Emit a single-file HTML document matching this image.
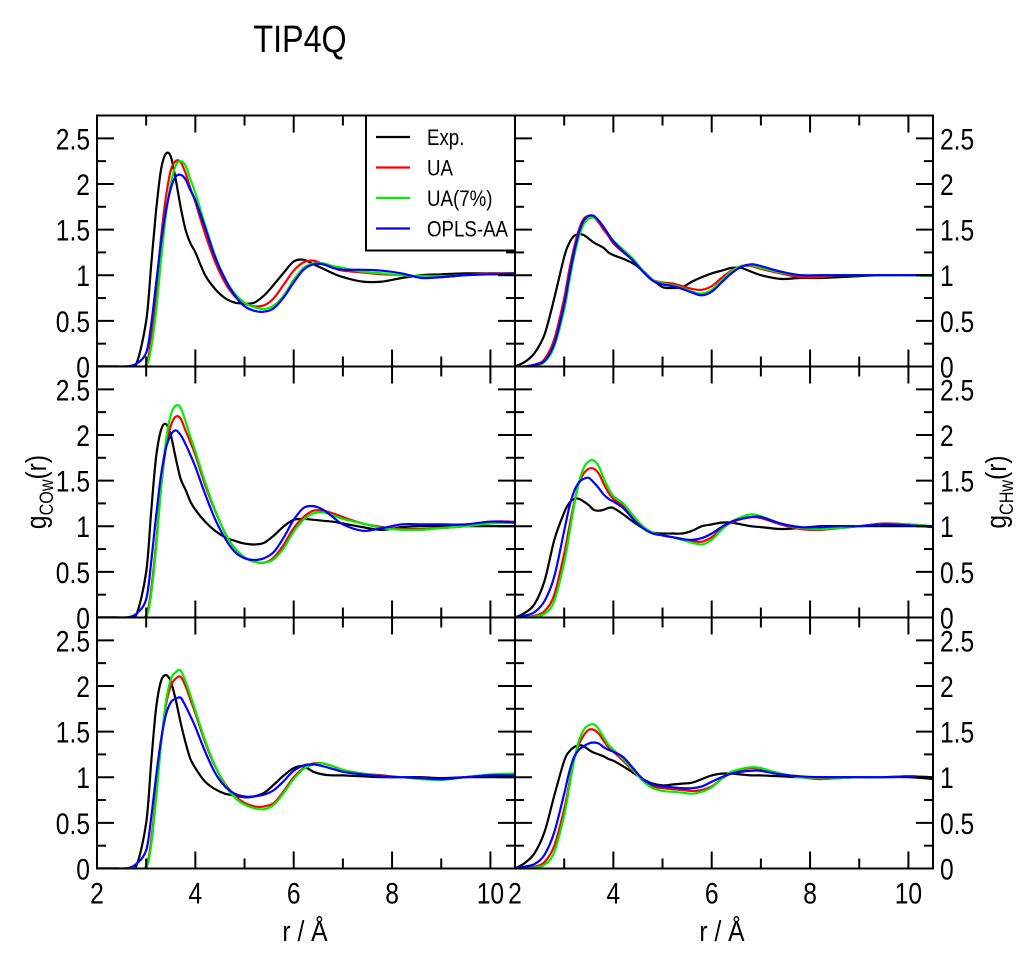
<!DOCTYPE html>
<html><head><meta charset="utf-8">
<style>
html,body{margin:0;padding:0;background:#fff;}
svg{display:block;font-family:"Liberation Sans",sans-serif;}
</style></head>
<body>
<svg id="chart" width="1024" height="957" viewBox="0 0 1024 957">
<text transform="translate(300,52) scale(0.85,1)" font-size="38" text-anchor="middle">TIP4Q</text>
<g id="panels"></g>
<text transform="translate(305,941) scale(0.85,1)" font-size="29" text-anchor="middle">r / Å</text>
<text transform="translate(722,941) scale(0.85,1)" font-size="29" text-anchor="middle">r / Å</text>
<text transform="translate(46,492) rotate(-90) scale(0.85,1)" font-size="29" text-anchor="middle">g<tspan font-size="19" dy="7">COw</tspan><tspan dy="-7">(r)</tspan></text>
<text transform="translate(1006,492) rotate(-90) scale(0.85,1)" font-size="29" text-anchor="middle">g<tspan font-size="19" dy="7">CHw</tspan><tspan dy="-7">(r)</tspan></text>
</svg>
<script>
const R = [2.0,2.2,2.4,2.6,2.8,3.0,3.1,3.2,3.3,3.4,3.5,3.6,3.7,3.8,3.9,4.0,4.2,4.4,4.6,4.8,5.0,5.2,5.4,5.6,5.8,6.0,6.2,6.4,6.6,6.8,7.0,7.4,7.8,8.2,8.6,9.0,9.5,10.0,10.5];
const seriesNames = ["Exp.","UA","UA(7%)","OPLS-AA"];
const seriesColors = ["#000000","#ff0000","#00ee00","#0000ff"];
const xTicks = [2,4,6,8,10];
const yTicks = [0,0.5,1,1.5,2,2.5];
// top-left (COw)
const p1Exp = [0,0,0,0,0.03,0.5,1.1,1.7,2.15,2.33,2.3,2.05,1.75,1.5,1.35,1.25,1.0,0.85,0.75,0.7,0.69,0.7,0.78,0.9,1.03,1.15,1.17,1.12,1.07,1.02,0.98,0.93,0.93,0.97,1.0,1.01,1.02,1.02,1.02];
const p1UA  = [0,0,0,0,0,0.02,0.3,0.8,1.4,1.85,2.15,2.25,2.24,2.12,1.95,1.8,1.45,1.15,0.92,0.77,0.69,0.66,0.67,0.75,0.9,1.05,1.14,1.16,1.12,1.08,1.05,1.03,1.01,1.0,0.98,0.98,1.0,1.02,1.01];
const p1UA7 = [0,0,0,0,0,0.01,0.2,0.6,1.15,1.65,2.0,2.2,2.25,2.2,2.05,1.9,1.55,1.22,0.97,0.8,0.7,0.65,0.63,0.67,0.78,0.95,1.08,1.13,1.13,1.1,1.08,1.04,1.02,1.0,0.99,0.99,1.0,1.01,1.0];
const p1OPLS= [0,0,0,0,0.03,0.15,0.45,0.9,1.35,1.7,1.95,2.08,2.1,2.05,1.93,1.82,1.52,1.2,0.96,0.78,0.66,0.61,0.6,0.64,0.76,0.92,1.06,1.12,1.12,1.08,1.06,1.06,1.05,1.02,0.97,0.98,1.0,1.01,1.01];
// top-right (CHw)
const p2Exp = [0,0.05,0.15,0.35,0.75,1.2,1.35,1.43,1.45,1.44,1.4,1.36,1.33,1.3,1.25,1.22,1.18,1.13,1.05,0.95,0.87,0.86,0.87,0.93,0.98,1.02,1.05,1.08,1.08,1.04,1.0,0.96,0.97,0.97,0.98,0.99,1.0,1.0,1.0];
const p2UA  = [0,0,0.02,0.08,0.3,0.75,1.05,1.3,1.5,1.62,1.65,1.64,1.58,1.5,1.43,1.35,1.25,1.17,1.05,0.95,0.92,0.91,0.88,0.85,0.84,0.88,0.97,1.05,1.1,1.1,1.07,1.02,0.98,0.98,1.0,1.0,1.0,1.0,1.0];
const p2UA7 = [0,0,0.01,0.05,0.22,0.62,0.92,1.2,1.42,1.56,1.62,1.63,1.6,1.53,1.45,1.38,1.28,1.18,1.05,0.95,0.91,0.89,0.86,0.82,0.8,0.84,0.94,1.04,1.1,1.11,1.08,1.03,1.0,1.0,1.0,1.0,1.0,1.0,0.99];
const p2OPLS= [0,0,0.02,0.06,0.25,0.68,0.98,1.25,1.47,1.6,1.65,1.65,1.6,1.53,1.45,1.37,1.26,1.16,1.04,0.94,0.9,0.88,0.85,0.81,0.78,0.82,0.92,1.02,1.09,1.12,1.1,1.04,1.0,1.0,1.0,1.0,1.0,1.0,1.0];
// middle-left (COw)
const p3Exp = [0,0,0,0,0.03,0.5,1.15,1.75,2.05,2.12,2.0,1.75,1.52,1.4,1.27,1.18,1.05,0.95,0.88,0.84,0.81,0.8,0.82,0.9,1.0,1.07,1.08,1.07,1.06,1.05,1.03,0.99,0.96,0.99,1.0,1.0,1.0,1.0,1.0];
const p3UA  = [0,0,0,0,0,0.02,0.3,0.8,1.4,1.85,2.1,2.2,2.18,2.05,1.92,1.78,1.45,1.17,0.93,0.76,0.66,0.61,0.6,0.66,0.8,0.98,1.1,1.17,1.17,1.14,1.1,1.03,0.99,0.97,0.97,0.98,1.0,1.05,1.05];
const p3UA7 = [0,0,0,0,0,0.01,0.25,0.75,1.4,1.92,2.22,2.32,2.3,2.15,1.98,1.82,1.48,1.18,0.93,0.76,0.66,0.61,0.6,0.64,0.76,0.94,1.07,1.14,1.15,1.12,1.08,1.03,0.98,0.96,0.96,0.98,1.0,1.03,1.04];
const p3OPLS= [0,0,0,0,0.04,0.2,0.6,1.1,1.55,1.85,2.0,2.05,2.0,1.9,1.78,1.65,1.35,1.08,0.87,0.72,0.65,0.63,0.65,0.72,0.88,1.07,1.2,1.22,1.18,1.1,1.02,0.95,0.98,1.02,1.02,1.02,1.02,1.05,1.04];
// middle-right (CHw)
const p4Exp = [0,0.05,0.15,0.4,0.85,1.15,1.25,1.3,1.3,1.27,1.23,1.18,1.17,1.18,1.2,1.2,1.13,1.05,0.98,0.93,0.92,0.92,0.92,0.95,1.0,1.02,1.04,1.04,1.02,1.0,0.99,0.97,0.98,1.0,1.0,1.0,1.0,1.0,1.0];
const p4UA  = [0,0,0.02,0.07,0.25,0.7,0.98,1.25,1.47,1.58,1.63,1.63,1.58,1.47,1.37,1.3,1.22,1.1,0.99,0.93,0.9,0.88,0.86,0.84,0.83,0.88,0.97,1.04,1.08,1.1,1.09,1.02,0.97,0.96,0.98,1.0,1.03,1.02,1.0];
const p4UA7 = [0,0,0.01,0.04,0.18,0.6,0.9,1.22,1.48,1.64,1.71,1.72,1.66,1.53,1.42,1.33,1.25,1.12,1.0,0.93,0.9,0.88,0.85,0.82,0.8,0.85,0.96,1.05,1.1,1.13,1.11,1.03,0.98,0.97,0.98,1.0,1.02,1.02,1.0];
const p4OPLS= [0,0.02,0.06,0.18,0.45,0.95,1.2,1.38,1.48,1.52,1.53,1.48,1.42,1.35,1.3,1.27,1.2,1.08,0.98,0.92,0.9,0.88,0.86,0.85,0.87,0.92,0.99,1.05,1.08,1.1,1.1,1.03,0.99,0.99,1.0,1.0,1.02,1.01,0.99];
// bottom-left (COw)
const p5Exp = [0,0,0,0,0.03,0.5,1.15,1.75,2.05,2.12,2.05,1.85,1.6,1.38,1.2,1.1,0.95,0.87,0.82,0.8,0.78,0.79,0.83,0.92,1.02,1.1,1.12,1.06,1.03,1.02,1.02,1.01,1.0,1.0,1.0,0.99,1.0,1.0,1.0];
const p5UA  = [0,0,0,0,0,0.02,0.3,0.8,1.35,1.78,2.0,2.08,2.1,2.0,1.85,1.7,1.38,1.12,0.93,0.8,0.72,0.68,0.68,0.72,0.85,1.0,1.1,1.15,1.15,1.12,1.08,1.04,1.02,1.0,0.99,0.98,1.0,1.02,1.02];
const p5UA7 = [0,0,0,0,0,0.01,0.25,0.75,1.35,1.82,2.07,2.15,2.17,2.05,1.9,1.73,1.4,1.13,0.92,0.78,0.7,0.66,0.65,0.7,0.83,0.98,1.09,1.14,1.15,1.12,1.08,1.04,1.01,1.0,0.98,0.97,1.0,1.03,1.04];
const p5OPLS= [0,0,0,0,0.05,0.2,0.55,1.0,1.4,1.68,1.82,1.86,1.87,1.78,1.67,1.55,1.28,1.05,0.9,0.82,0.79,0.79,0.81,0.86,0.96,1.07,1.13,1.14,1.12,1.09,1.06,1.03,1.01,1.0,0.99,0.98,1.0,1.02,1.02];
// bottom-right (CHw)
const p6Exp = [0,0.06,0.17,0.4,0.8,1.18,1.28,1.33,1.35,1.34,1.3,1.27,1.25,1.23,1.2,1.18,1.12,1.05,0.98,0.93,0.91,0.92,0.93,0.94,0.98,1.02,1.04,1.04,1.03,1.02,1.02,1.01,1.0,1.0,1.0,1.0,1.0,1.0,0.98];
const p6UA  = [0,0,0.02,0.07,0.25,0.65,0.92,1.18,1.36,1.46,1.52,1.52,1.48,1.4,1.33,1.28,1.18,1.07,0.97,0.9,0.88,0.87,0.86,0.85,0.86,0.9,0.98,1.05,1.08,1.1,1.09,1.04,1.0,0.98,0.99,1.0,1.0,1.01,1.0];
const p6UA7 = [0,0,0.01,0.04,0.18,0.58,0.88,1.18,1.4,1.52,1.57,1.58,1.53,1.44,1.36,1.3,1.2,1.08,0.96,0.88,0.85,0.84,0.83,0.82,0.84,0.89,0.98,1.06,1.09,1.11,1.1,1.04,1.0,0.99,0.99,1.0,1.0,1.01,1.0];
const p6OPLS= [0,0.02,0.05,0.15,0.4,0.82,1.05,1.22,1.3,1.34,1.37,1.38,1.37,1.33,1.3,1.28,1.22,1.1,0.98,0.92,0.9,0.89,0.88,0.88,0.9,0.95,1.0,1.04,1.06,1.07,1.07,1.03,1.01,1.0,1.0,1.0,1.0,1.01,1.0];
const panelData = [[p1Exp,p1UA,p1UA7,p1OPLS],[p2Exp,p2UA,p2UA7,p2OPLS],[p3Exp,p3UA,p3UA7,p3OPLS],[p4Exp,p4UA,p4UA7,p4OPLS],[p5Exp,p5UA,p5UA7,p5OPLS],[p6Exp,p6UA,p6UA7,p6OPLS]];
const panelNames = ["top-left","top-right","middle-left","middle-right","bottom-left","bottom-right"];

const NS = "http://www.w3.org/2000/svg";
const root = document.getElementById("panels");
const X0 = [97,515], PW = 418, Y0 = [115.5,366.5,617.5], PH = 251;
const XMIN=2, XMAX=10.5, YMAX=2.75;
const SQ = 0.82;
function mk(tag, attrs, parent){const e=document.createElementNS(NS,tag);for(const k in attrs)e.setAttribute(k,attrs[k]);(parent||root).appendChild(e);return e;}
function smoothPath(pts){
  let d="M"+pts[0][0].toFixed(1)+","+pts[0][1].toFixed(1);
  for(let i=0;i<pts.length-1;i++){
    const p0=pts[Math.max(0,i-1)],p1=pts[i],p2=pts[i+1],p3=pts[Math.min(pts.length-1,i+2)];
    const c1=[p1[0]+(p2[0]-p0[0])/6,p1[1]+(p2[1]-p0[1])/6];
    const c2=[p2[0]-(p3[0]-p1[0])/6,p2[1]-(p3[1]-p1[1])/6];
    d+=" C"+c1[0].toFixed(1)+","+c1[1].toFixed(1)+" "+c2[0].toFixed(1)+","+c2[1].toFixed(1)+" "+p2[0].toFixed(1)+","+p2[1].toFixed(1);
  }
  return d;
}
for(let p=0;p<6;p++){
  const col=p%2,row=Math.floor(p/2);
  const x0=X0[col],y0=Y0[row];
  const sx=v=>x0+(v-XMIN)/(XMAX-XMIN)*PW;
  const sy=v=>y0+PH-v/YMAX*PH;
  const g=mk("g",{});
  
  
  const clipId="clip"+p;
  const cp=mk("clipPath",{id:clipId},g);
  mk("rect",{x:x0,y:y0,width:PW,height:PH},cp);
  for(let s=0;s<4;s++){
    const pts=R.map((r,i)=>[sx(r),sy(panelData[p][s][i])]);
    const path=mk("path",{d:smoothPath(pts),fill:"none",stroke:seriesColors[s],"stroke-width":2.2,"clip-path":"url(#"+clipId+")"},g);
    
    
  }
  const tk=mk("g",{stroke:"#000","stroke-width":2},g);
  for(let v=0;v<=YMAX+1e-6;v+=0.25){
    const major=Math.abs(v*2-Math.round(v*2))<1e-6;
    const L=major?17:9, y=sy(v);
    mk("line",{x1:x0,y1:y,x2:x0+L,y2:y},tk);
    mk("line",{x1:x0+PW,y1:y,x2:x0+PW-L,y2:y},tk);
  }
  for(let v=2;v<=10;v+=1){
    const major=v%2===0, L=major?17:10, x=sx(v);
    mk("line",{x1:x,y1:y0,x2:x,y2:y0+L},tk);
    mk("line",{x1:x,y1:y0+PH,x2:x,y2:y0+PH-L},tk);
  }
  const fr=mk("rect",{x:x0,y:y0,width:PW,height:PH,fill:"none",stroke:"#000","stroke-width":2},g);
  
  
  for(const v of yTicks){
    const tx=col===0?x0-7:x0+PW+7;
    const t=mk("text",{transform:"translate("+tx+","+(sy(v)+11)+") scale("+SQ+",1)","font-size":30,"text-anchor":col===0?"end":"start"},g);
    t.textContent=String(v);
    
    
  }
  if(row===2){
    for(const v of xTicks){
      const t=mk("text",{transform:"translate("+sx(v)+","+(y0+PH+35)+") scale("+SQ+",1)","font-size":30,"text-anchor":"middle"},g);
      t.textContent=String(v);
      
      
    }
  }
}
const lg=mk("g",{});


mk("rect",{x:366,y:115.5,width:149,height:135,fill:"#fff",stroke:"#000","stroke-width":2},lg);
for(let s=0;s<4;s++){
  const y=137+s*30.5;
  const e=mk("g",{},lg);
  
  
  mk("line",{x1:376,y1:y,x2:410,y2:y,stroke:seriesColors[s],"stroke-width":2.2},e);
  const t=mk("text",{transform:"translate(427,"+(y+8)+") scale(0.85,1)","font-size":22},e);
  t.textContent=seriesNames[s];
}
</script>
</body></html>
